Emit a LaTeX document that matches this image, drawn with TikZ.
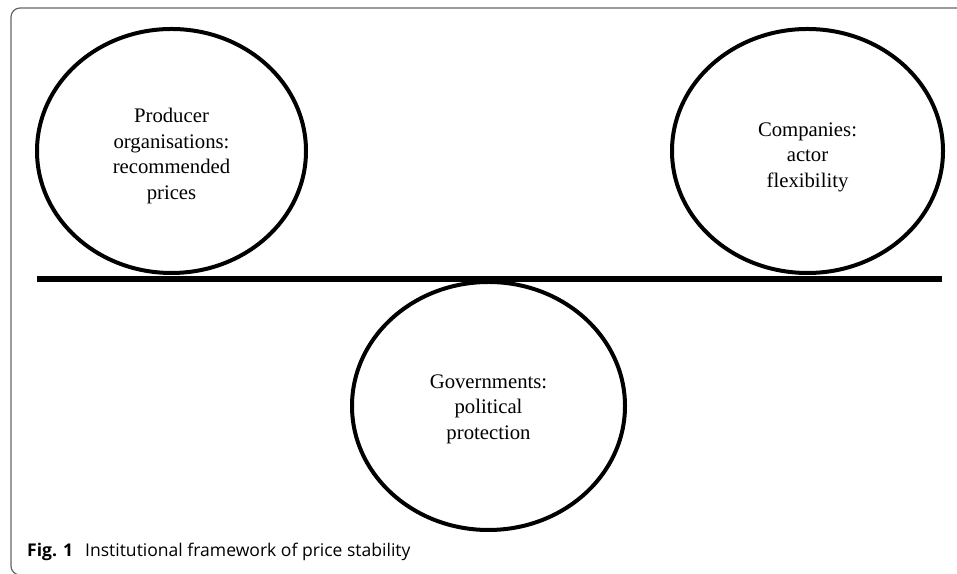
\documentclass[tikz,border=0pt]{standalone}
\usepackage{fontspec}
\setmainfont{Liberation Serif}
\newfontfamily\capfont{Open Sans}
\usetikzlibrary{shapes.geometric}

\begin{document}
\begin{tikzpicture}[x=1bp,y=1bp,
  cnode/.style={draw, ellipse, line width=4bp, inner sep=0pt},
  ctext/.style={align=center, inner sep=0pt, font=\fontsize{20.8}{25.5}\selectfont},
  bar/.style={line width=6bp},
  frame/.style={draw=black!60, line width=1.2bp, rounded corners=9bp}]
  \useasboundingbox (0,0) rectangle (957,574);
  \clip (0,0) rectangle (957,574);
  \draw[frame] (11,-1) rectangle (990,566);

  % the three actors
  \node[cnode, minimum width=269bp, minimum height=244bp] (prod) at (171.5,423) {};
  \node[cnode, minimum width=271bp, minimum height=244bp] (comp) at (807.5,423) {};
  \node[cnode, minimum width=273bp, minimum height=248bp] (gov) at (488.5,168) {};
  \node[ctext] (prodt) at ([yshift=-5bp]prod.center) {Producer\\organisations:\\recommended\\prices};
  \node[ctext] (compt) at ([yshift=-6bp]comp.center) {Companies:\\actor\\flexibility};
  \node[ctext] (govt) at ([yshift=-3bp]gov.center) {Governments:\\political\\protection};

  % the beam
  \coordinate (bl) at (37,295);
  \coordinate (br) at (942,295);
  \draw[bar] (bl) -- (br);

  \node[anchor=base west, inner sep=0pt, font=\capfont\fontsize{17.6}{20}\selectfont] (cap) at (27,17) {\textbf{Fig. 1}\hspace{12bp}Institutional framework of price stability};
\end{tikzpicture}
\end{document}
